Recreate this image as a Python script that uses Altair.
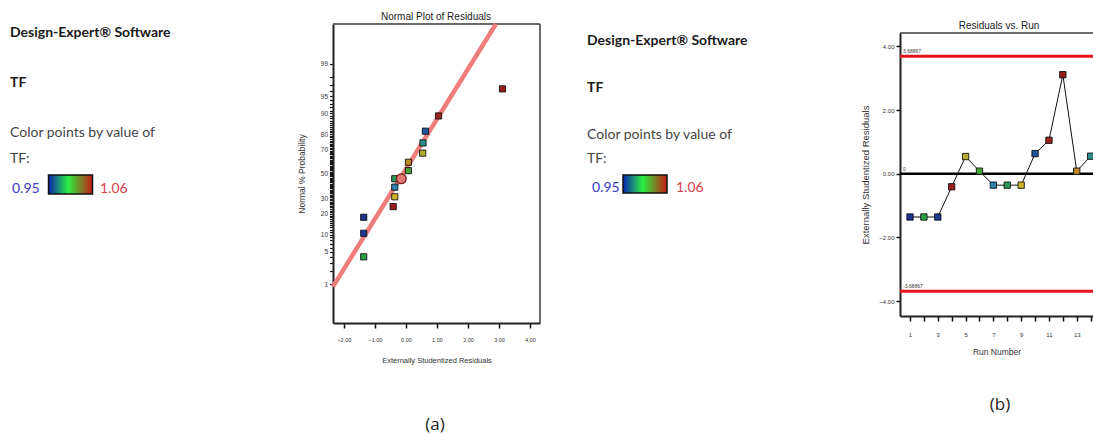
import altair as alt
import pandas as pd
from statistics import NormalDist

# ---- data -----------------------------------------------------------------
# run order, externally studentized residual, TF response and the normal
# probability (%) at which each residual sits on the normal plot
runs = list(range(1, 15))
residuals = [-1.36, -1.36, -1.36, -0.41, 0.54, 0.08, -0.36, -0.36, -0.36,
             0.63, 1.05, 3.11, 0.08, 0.55]
tf_values = [0.952, 1.005, 0.955, 1.060, 1.030, 1.010, 0.982, 1.000, 1.035,
             0.965, 1.058, 1.060, 1.042, 0.990]
normal_pct = [18.0, 4.0, 10.5, 24.5, 67.0, 52.8, 39.0, 46.0, 31.5,
              81.7, 89.0, 96.4, 59.8, 74.4]

# highlighted point on the normal plot
marker_resid = [-0.15]
marker_pct = [46.0]

# normal-plot reference line (residual, normal score) at the frame edges
fit_resid = [-2.35, 2.90]
fit_score = [-2.38, 3.17]

# control limits and centre line of the residuals-vs-run plot
limit_values = [3.68867, -3.68867]
limit_labels = ["3.68867", "-3.68867"]
center_value = [0.0]
center_label = ["0"]

prob_ticks = list(range(1, 100))
prob_labels = [1, 5, 10, 20, 30, 50, 70, 80, 90, 95, 99]
resid_ticks = [-2, -1, 0, 1, 2, 3, 4]
run_resid_ticks = [-4, -2, 0, 2, 4]
run_ticks = list(range(1, 15))
tf_limits = [0.95, 1.06]

# ---- layout ---------------------------------------------------------------
W, H = 1093, 435
A_X_DOMAIN, A_X_RANGE = [-2.35, 4.32], [333, 540]
A_Y_DOMAIN, A_Y_RANGE = [-3.15, 3.17], [323, 24]
B_X_DOMAIN, B_X_RANGE = [0.28, 14.17], [900, 1093]
B_Y_DOMAIN, B_Y_RANGE = [-4.47, 4.42], [316, 33]

NARROW = "Liberation Sans Narrow, Liberation Sans, Arial"
UI = "Lato, Noto Sans, sans-serif"
FRAME = "#3a3a3a"

nd = NormalDist()
to_score = lambda p: nd.inv_cdf(p / 100.0)

tf_scale = alt.Scale(domain=[0.95, 0.98, 1.005, 1.035, 1.06],
                     range=["#1a2a8c", "#2a80b8", "#2aa040", "#cdb22a", "#9a1c1c"],
                     interpolate="rgb")

ONE = pd.DataFrame({"k": [0]})

# ---- (a) normal plot of residuals ----------------------------------------
a_xs = alt.Scale(domain=A_X_DOMAIN, range=A_X_RANGE, zero=False, nice=False)
a_ys = alt.Scale(domain=A_Y_DOMAIN, range=A_Y_RANGE, zero=False, nice=False)

label_set = ",".join(str(v) for v in prob_labels)
pct_expr = "round(cumulativeNormal(datum.value) * 100)"
a_x_axis = alt.Axis(orient="bottom", offset=A_Y_RANGE[0] - H, values=resid_ticks,
                    format=".2f", title="Externally Studentized Residuals",
                    domainColor="#222", domainWidth=2, tickColor="#111",
                    tickWidth=1.5, tickSize=5, labelFontSize=5.5, labelPadding=9,
                    labelFlush=False, titleFontSize=7.5, titlePadding=14,
                    titleFontWeight="normal")
a_y_axis = alt.Axis(orient="left", offset=-A_X_RANGE[0],
                    values=[to_score(p) for p in prob_ticks],
                    labelExpr=f"indexof([{label_set}], {pct_expr}) >= 0 ? {pct_expr} : ''",
                    labelOverlap=False, labelFlush=False,
                    title="Normal % Probability", domainColor="#222", domainWidth=2,
                    tickColor="#111", tickWidth=1.2, tickSize=3.5, labelFontSize=6.5,
                    labelPadding=2, titleFontSize=8.5, titlePadding=14,
                    titleFontWeight="normal")

pts = pd.DataFrame({"resid": residuals, "tf": tf_values,
                    "score": [to_score(p) for p in normal_pct]})
marker = pd.DataFrame({"resid": marker_resid,
                       "score": [to_score(p) for p in marker_pct]})
fit = pd.DataFrame({"resid": fit_resid, "score": fit_score})
a_frame = pd.DataFrame({"resid": [A_X_DOMAIN[0], A_X_DOMAIN[1]],
                        "resid2": [A_X_DOMAIN[1], A_X_DOMAIN[1]],
                        "score": [A_Y_DOMAIN[1], A_Y_DOMAIN[0]],
                        "score2": [A_Y_DOMAIN[1], A_Y_DOMAIN[1]]})

# every layer of a panel carries the same axis definition so they merge
ax = lambda: alt.X("resid:Q", scale=a_xs, axis=a_x_axis)
ay = lambda: alt.Y("score:Q", scale=a_ys, axis=a_y_axis)

a_frame_l = alt.Chart(a_frame).mark_rule(color=FRAME, strokeWidth=1.5).encode(
    x=ax(), x2="resid2:Q", y=ay(), y2="score2:Q")
a_fit = alt.Chart(fit).mark_line(color="#f07c7c", strokeWidth=4.5).encode(x=ax(), y=ay())
a_pts = alt.Chart(pts).mark_square(size=38, filled=True, stroke="#111",
                                   strokeWidth=0.9, opacity=1).encode(
    x=ax(), y=ay(), fill=alt.Fill("tf:Q", scale=tf_scale, legend=None))
a_marker = alt.Chart(marker).mark_point(shape="circle", size=95, filled=True,
                                        fill="#e07a78", stroke="#7a2020",
                                        strokeWidth=1.3, opacity=1).encode(x=ax(), y=ay())
panel_a = alt.layer(a_frame_l, a_fit, a_pts, a_marker)

# ---- (b) residuals vs run -------------------------------------------------
b_xs = alt.Scale(domain=B_X_DOMAIN, range=B_X_RANGE, zero=False, nice=False)
b_ys = alt.Scale(domain=B_Y_DOMAIN, range=B_Y_RANGE, zero=False, nice=False)

b_x_axis = alt.Axis(orient="bottom", offset=B_Y_RANGE[0] - H, values=run_ticks,
                    labelExpr="datum.value % 2 == 1 ? datum.label : ''",
                    labelOverlap=False, labelFlush=False, format="d",
                    title="Run Number", domainColor="#222", domainWidth=2,
                    tickColor="#111", tickWidth=1.5, tickSize=5, labelFontSize=6,
                    labelPadding=10, titleFontSize=8.5, titlePadding=10,
                    titleFontWeight="normal")
b_y_axis = alt.Axis(orient="left", offset=-B_X_RANGE[0], values=run_resid_ticks,
                    format=".2f", title="Externally Studentized Residuals",
                    labelFlush=False, domainColor="#222", domainWidth=2,
                    tickColor="#111", tickWidth=1.5, tickSize=4, labelFontSize=6,
                    labelPadding=2, titleFontSize=9.5, titlePadding=8,
                    titleFontWeight="normal")

runs_df = pd.DataFrame({"run": runs, "resid": residuals, "tf": tf_values})
limits = pd.DataFrame({"run": [B_X_DOMAIN[0]] * 2, "run2": [B_X_DOMAIN[1]] * 2,
                       "resid": limit_values, "label": limit_labels})
center = pd.DataFrame({"run": [B_X_DOMAIN[0]], "run2": [B_X_DOMAIN[1]],
                       "resid": center_value, "label": center_label})
b_top = pd.DataFrame({"run": [B_X_DOMAIN[0]], "run2": [B_X_DOMAIN[1]],
                      "resid": [B_Y_DOMAIN[1]]})

bx = lambda: alt.X("run:Q", scale=b_xs, axis=b_x_axis)
by = lambda: alt.Y("resid:Q", scale=b_ys, axis=b_y_axis)

b_frame = alt.Chart(b_top).mark_rule(color=FRAME, strokeWidth=1.5).encode(
    x=bx(), x2="run2:Q", y=by())
b_limits = alt.Chart(limits).mark_rule(color="#e8141c", strokeWidth=3).encode(
    x=bx(), x2="run2:Q", y=by())
b_limit_txt = alt.Chart(limits).mark_text(align="left", baseline="bottom", dx=3, dy=-2,
                                          fontSize=5, font=NARROW, color="#333").encode(
    x=bx(), y=by(), text="label:N")
b_center = alt.Chart(center).mark_rule(color="#000", strokeWidth=2.5).encode(
    x=bx(), x2="run2:Q", y=by())
b_center_txt = alt.Chart(center).mark_text(align="left", baseline="bottom", dx=3, dy=-2,
                                           fontSize=5, font=NARROW, color="#333").encode(
    x=bx(), y=by(), text="label:N")
b_line = alt.Chart(runs_df).mark_line(color="#111", strokeWidth=1).encode(x=bx(), y=by())
b_pts = alt.Chart(runs_df).mark_square(size=40, filled=True, stroke="#111",
                                       strokeWidth=0.9, opacity=1).encode(
    x=bx(), y=by(), fill=alt.Fill("tf:Q", scale=tf_scale, legend=None))
panel_b = alt.layer(b_frame, b_limits, b_limit_txt, b_center, b_center_txt, b_line, b_pts)


# ---- side notes, titles and captions --------------------------------------
def text(t, x, y, size, weight="normal", color="#1a1a1a", align="left", font=UI):
    return alt.Chart(ONE).mark_text(text=t, x=x, y=y, align=align, baseline="alphabetic",
                                    fontSize=size, fontWeight=weight, color=color, font=font)


gradient = alt.LinearGradient(gradient="linear", x1=0, x2=1, y1=0, y2=0, stops=[
    alt.GradientStop(offset=0, color="#0c22b4"),
    alt.GradientStop(offset=0.45, color="#28f040"),
    alt.GradientStop(offset=1, color="#c81a10")])


def note_block(x0, y_head, y_tf, y_color, y_tf2, y_leg, bar_x, bar_y, hi_x, lo_x):
    return [
        text("Design-Expert® Software", x0, y_head, 14, "bold"),
        text("TF", x0, y_tf, 14, "bold"),
        text("Color points by value of", x0, y_color, 14, color="#444"),
        text("TF:", x0, y_tf2, 14, color="#444"),
        text(f"{tf_limits[0]:.2f}", lo_x, y_leg, 14, color="#3a3ac8"),
        alt.Chart(ONE).mark_rect(color=gradient, stroke="#111", strokeWidth=1.5).encode(
            x=alt.value(bar_x[0]), x2=alt.value(bar_x[1]),
            y=alt.value(bar_y[0]), y2=alt.value(bar_y[1])),
        text(f"{tf_limits[1]:.2f}", hi_x, y_leg, 14, color="#d9404a"),
    ]


notes = (note_block(10, 36.5, 87, 137, 162.5, 193, (48.5, 92.5), (175, 194), 100, 12)
         + note_block(587, 45, 91.5, 139, 163, 192, (623, 667), (175, 193), 676, 592))

titles = [
    text("Normal Plot of Residuals", 436, 20, 10, align="center", font=NARROW, color="#222"),
    text("Residuals vs. Run", 999, 29, 10, align="center", font=NARROW, color="#222"),
    text("(a)", 435, 430, 17, align="center", font="Open Sans", color="#222"),
    text("(b)", 1000, 410, 17, align="center", font="Open Sans", color="#222"),
]

chart = alt.layer(panel_a, panel_b, *notes, *titles).resolve_scale(
    x="independent", y="independent"
).properties(
    width=W, height=H, padding=0, autosize=alt.AutoSizeParams(type="none"),
    background="white"
).configure_view(stroke=None).configure_axis(
    grid=False, labelFont=NARROW, titleFont=NARROW, labelColor="#333", titleColor="#333"
)

chart.save("out.html", embed_options={"renderer": "svg", "actions": False})
